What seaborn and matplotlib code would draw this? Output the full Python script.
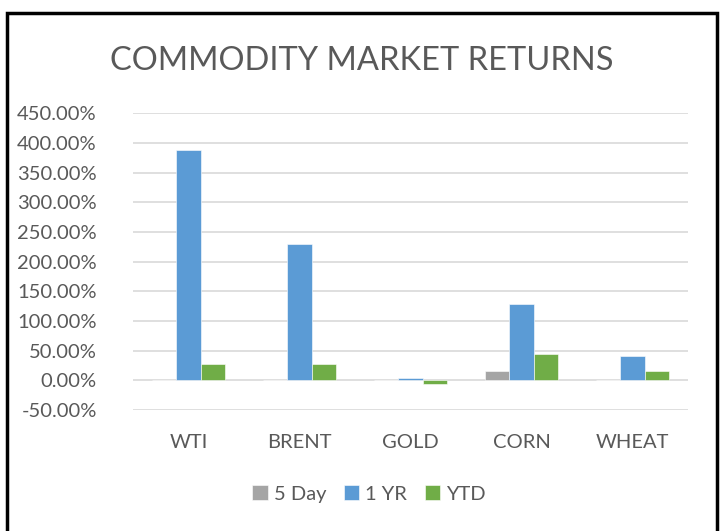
import numpy as np
import pandas as pd
import matplotlib
matplotlib.use('Agg')
import matplotlib.pyplot as plt
import seaborn as sns
from matplotlib.patches import Rectangle
from matplotlib.ticker import FuncFormatter

# Datos (en %)
commodities = ['WTI', 'BRENT', 'GOLD', 'CORN', 'WHEAT']
series_names = ['5 Day', '1 YR', 'YTD']
five_day = [0.3, 0.2, 0.2, 15.0, 0.8]
one_yr = [388.0, 230.5, 3.5, 129.0, 41.7]
ytd = [27.8, 27.0, -5.8, 44.5, 15.0]

colors = ['#A5A5A5', '#5B9BD5', '#70AD47']

# Tabla larga para seaborn
df = pd.DataFrame({
    'commodity': commodities * 3,
    'series': [s for s in series_names for _ in commodities],
    'value': five_day + one_yr + ytd,
})

sns.set_style('white')
plt.rcParams['font.family'] = ['Lato', 'DejaVu Sans']

fig = plt.figure(figsize=(7.24, 5.31), dpi=100)
ax = fig.add_axes([0.1837, 0.228, 0.7666, 0.5586])

sns.barplot(data=df, x='commodity', y='value', hue='series',
            hue_order=series_names, order=commodities,
            palette=colors, saturation=1, width=0.66, gap=0, ax=ax,
            edgecolor='white', linewidth=0.4, legend=True)

ax.set_xlim(-0.5, 4.5)
ax.set_ylim(-50, 450)
ax.set_yticks(np.arange(-50, 451, 50))
ax.yaxis.set_major_formatter(FuncFormatter(lambda v, p: f'{v:.2f}%'))
ax.grid(axis='y', color='#D9D9D9', linewidth=1.2)
ax.set_axisbelow(True)
for s in ax.spines.values():
    s.set_visible(False)
ax.set_xlabel('')
ax.set_ylabel('')
ax.tick_params(axis='both', length=0, labelsize=14.5, colors='#595959')
ax.tick_params(axis='x', pad=17)
ax.tick_params(axis='y', pad=26)

ax.legend(loc='center', bbox_to_anchor=(0.51, 0.07),
          bbox_transform=fig.transFigure, ncol=3, frameon=False,
          fontsize=14.5, handlelength=0.75, handleheight=0.75,
          handletextpad=0.3, columnspacing=0.9, labelcolor='#595959')

fig.text(0.5, 0.885, 'COMMODITY MARKET RETURNS', ha='center', va='center',
         fontsize=23.5, color='#595959')

# Marco negro alrededor del gráfico
fig.patches.append(Rectangle((0.009, -0.02), 0.982, 0.995,
                             transform=fig.transFigure, fill=False,
                             edgecolor='black', linewidth=2.5))

fig.savefig('out.png', dpi=100)
